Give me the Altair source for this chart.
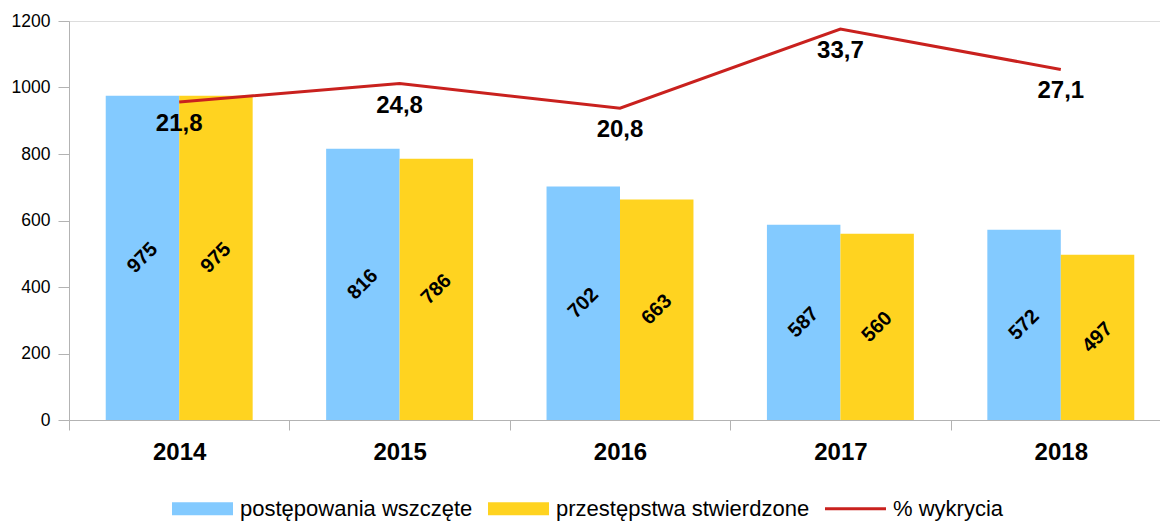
import altair as alt
import pandas as pd

years = ["2014", "2015", "2016", "2017", "2018"]
wszczete = [975, 816, 702, 587, 572]
stwierdzone = [975, 786, 663, 560, 497]
wykrycia = [21.8, 24.8, 20.8, 33.7, 27.1]
wykrycia_labels = ["21,8", "24,8", "20,8", "33,7", "27,1"]
series_names = ["postępowania wszczęte", "przestępstwa stwierdzone", "% wykrycia"]
colors = ["#83CAFF", "#FFD320", "#C9211E"]
y_ticks = [0, 200, 400, 600, 800, 1000, 1200]

bars_df = pd.DataFrame({
    "rok": years * 2,
    "seria": [series_names[0]] * len(years) + [series_names[1]] * len(years),
    "wartosc": wszczete + stwierdzone,
})
line_df = pd.DataFrame({
    "rok": years,
    "seria": [series_names[2]] * len(years),
    "pct": wykrycia,
    "etykieta": wykrycia_labels,
})

FONT = "Liberation Sans"
GRAY = "#b3b3b3"

# the last category band runs slightly past the right edge of the page, as in the reference
x_enc = alt.X(
    "rok:N", sort=years,
    scale=alt.Scale(paddingInner=0, paddingOuter=0, range=[0, 1102]),
    axis=alt.Axis(title=None, labelAngle=0, labelFontSize=24, labelFontWeight="bold",
                  labelColor="#000000", labelPadding=10, tickBand="extent", tickSize=10,
                  tickColor=GRAY, domainColor=GRAY, labelFont=FONT),
)
xoff = alt.XOffset("seria:N", sort=series_names[:2],
                   scale=alt.Scale(paddingInner=0, paddingOuter=0.5))

legend = alt.Legend(
    orient="none", direction="horizontal", legendX=103, legendY=457, title=None,
    labelFontSize=22, labelFont=FONT, labelColor="#000000", labelOffset=7, labelLimit=0,
    columnPadding=15, symbolSize=3721,
    symbolType={"expr": "datum.value === '% wykrycia' ? 'M-1,-0.05H1V0.05H-1Z' : 'M-1,-0.213H1V0.213H-1Z'"},
    symbolStrokeWidth=0, symbolOpacity=1,
)
color_enc = alt.Color("seria:N", scale=alt.Scale(domain=series_names, range=colors), legend=legend)

y_left = alt.Scale(domain=[0, 1200])
y_right = alt.Scale(domain=[-30, 35])

bars = alt.Chart(bars_df).mark_bar().encode(
    x=x_enc, xOffset=xoff,
    y=alt.Y("wartosc:Q", scale=y_left,
            axis=alt.Axis(title=None, values=y_ticks, grid=False, labelFontSize=17.5, format="d",
                          labelFont=FONT, labelColor="#000000", tickSize=11, labelPadding=8,
                          tickColor=GRAY, domainColor=GRAY)),
    color=color_enc,
)

bar_text = alt.Chart(bars_df).transform_calculate(
    mid="datum.wartosc / 2"
).mark_text(angle=315, fontSize=20, fontWeight="bold", font=FONT, color="#000000",
            align="center", baseline="middle").encode(
    x=x_enc, xOffset=xoff,
    y=alt.Y("mid:Q", scale=y_left, axis=None),
    text=alt.Text("wartosc:Q"),
)

line = alt.Chart(line_df).mark_line(strokeWidth=3).encode(
    x=x_enc,
    y=alt.Y("pct:Q", scale=y_right, axis=None),
    color=color_enc,
)

line_text = alt.Chart(line_df).mark_text(dy=22, fontSize=24, fontWeight="bold", font=FONT,
                                         color="#000000", align="center", baseline="middle").encode(
    x=x_enc,
    y=alt.Y("pct:Q", scale=y_right, axis=None),
    text=alt.Text("etykieta:N"),
)

chart = alt.layer(bars, bar_text, line, line_text).resolve_scale(
    y="independent"
).properties(
    width=1091, height=399,
    autosize=alt.AutoSizeParams(type="none"),
    padding={"left": 61, "top": 13, "right": 0, "bottom": 102},
).configure_view(stroke=None).configure(font=FONT)

chart.save("out.html", embed_options={"renderer": "svg", "actions": False})
